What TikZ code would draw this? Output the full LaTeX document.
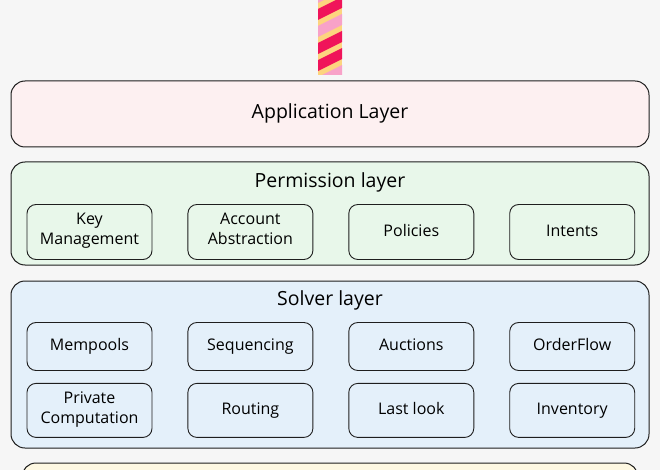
\documentclass[tikz,border=0pt]{standalone}
\usepackage{xcolor}
\usepackage{fontspec}
\setmainfont{Open Sans}
\usepackage{tikz}
\usetikzlibrary{positioning}

\definecolor{pagebg}{HTML}{F6F6F6}
\definecolor{inkline}{HTML}{1E1E1E}
\definecolor{appfill}{HTML}{FDF0F1}
\definecolor{permfill}{HTML}{E8F7EA}
\definecolor{solvfill}{HTML}{E4F0FA}
\definecolor{basefill}{HTML}{FEF8E2}
\definecolor{bandyellow}{HTML}{FDD47F}
\definecolor{bandpink}{HTML}{F8A2C8}
\definecolor{bandred}{HTML}{F0145A}

\begin{document}
\begin{tikzpicture}[
  x=1pt, y=-1pt,
  layer/.style={draw=inkline, line width=1pt, rounded corners=14pt, minimum width=638pt, inner sep=0pt},
  layertitle/.style={font=\fontsize{19.5}{22}\selectfont, execute at begin node=\strut},
  item/.style={draw=inkline, line width=0.9pt, rounded corners=9pt, minimum width=125pt, minimum height=50pt,
    inner sep=0pt, align=center, font=\fontsize{16}{20}\selectfont, execute at begin node=\strut}
]
  \fill[pagebg] (0,0) rectangle (660,470);
  \useasboundingbox (0,0) rectangle (660,470);
  \clip (0,0) rectangle (660,470);

  % striped pole
  \fill[bandyellow] (318,0) rectangle (342,75);
  \begin{scope}
    \clip (318,0) rectangle (342,75);
    \foreach \y/\c in {-20/bandpink, -3/bandred, 14/bandpink, 31/bandred, 48/bandred, 65/bandpink}
      \fill[\c] (318,\y+12) -- (342,\y) -- (342,\y+11) -- (318,\y+23) -- cycle;
  \end{scope}

  % application layer
  \node[layer, fill=appfill, minimum height=66pt, layertitle] (app) at (330,114) {Application Layer};

  % permission layer
  \node[layer, fill=permfill, minimum height=103pt] (perm) at (330,213.5) {};
  \node[layertitle] (permtitle) at (330,183) {Permission layer};
  \node[item, fill=permfill, minimum height=55pt] (keymgmt) at (89.5,232) {Key\\Management};
  \node[item, fill=permfill, minimum height=55pt, right=35pt of keymgmt] (account) {Account\\Abstraction};
  \node[item, fill=permfill, minimum height=55pt, right=35pt of account] (policies) {Policies};
  \node[item, fill=permfill, minimum height=55pt, right=35pt of policies] (intents) {Intents};

  % solver layer
  \node[layer, fill=solvfill, minimum height=167pt] (solver) at (330,364.5) {};
  \node[layertitle] (solvtitle) at (330,301) {Solver layer};
  \node[item, fill=solvfill, minimum height=48pt] (mempools) at (89.5,346.5) {Mempools};
  \node[item, fill=solvfill, minimum height=48pt, right=35pt of mempools] (sequencing) {Sequencing};
  \node[item, fill=solvfill, minimum height=48pt, right=35pt of sequencing] (auctions) {Auctions};
  \node[item, fill=solvfill, minimum height=48pt, right=35pt of auctions] (orderflow) {OrderFlow};
  \node[item, fill=solvfill, minimum height=54pt, below=12pt of mempools] (privcomp) {Private\\Computation};
  \node[item, fill=solvfill, minimum height=54pt, right=35pt of privcomp] (routing) {Routing};
  \node[item, fill=solvfill, minimum height=54pt, right=35pt of routing] (lastlook) {Last look};
  \node[item, fill=solvfill, minimum height=54pt, right=35pt of lastlook] (inventory) {Inventory};

  % next layer, cut off
  \node[layer, fill=basefill, minimum width=616pt, minimum height=70pt] (base) at (330,498) {};
\end{tikzpicture}
\end{document}
